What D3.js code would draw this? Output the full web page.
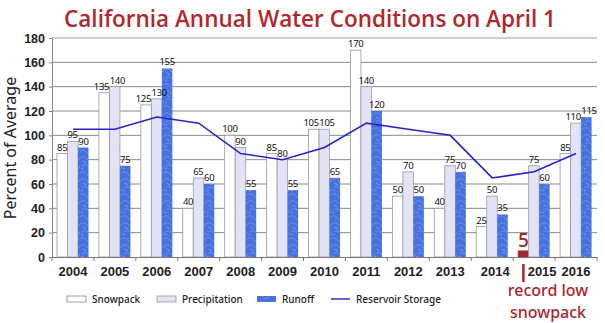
<!DOCTYPE html>
<html><head><meta charset="utf-8">
<script src="https://cdn.jsdelivr.net/npm/d3@7"></script>
<style>
html,body{margin:0;padding:0;background:#fff;}
svg{display:block;font-family:"Noto Sans","DejaVu Sans",sans-serif;}
</style></head>
<body><svg id="chart" width="605" height="323"></svg>
<script>
const years = ["2004","2005","2006","2007","2008","2009","2010","2011","2012","2013","2014","2015","2016"];
const snowpack = [85,135,125,40,100,85,105,170,50,40,25,5,85];
const precipitation = [95,140,130,65,90,80,105,140,70,75,50,75,110];
const runoff = [90,75,155,60,55,55,65,120,50,70,35,60,115];
const reservoir = [105,105,115,110,85,80,90,110,105,100,65,70,85];
const yTicks = [0,20,40,60,80,100,120,140,160,180];
const seriesNames = ["Snowpack","Precipitation","Runoff","Reservoir Storage"];
const titleText = "California Annual Water Conditions on April 1";
const yLabel = "Percent of Average";
const recordYear = "2015";
const noteLines = ["record low","snowpack"];

const svg = d3.select("#chart");
const defs = svg.append("defs");

const x = d3.scaleBand().domain(years).range([52,597]);
const xs = d3.scaleBand().domain(["s","p","r"]).range([5,36.5]);
const y = d3.scaleLinear().domain([0,180]).range([257,38]);
const step = x.step();

// patterns
const pPrec = defs.append("pattern").attr("id","precPat").attr("patternUnits","userSpaceOnUse")
  .attr("x", x.range()[0] + xs("p")).attr("y", 0).attr("width", step).attr("height", 62);
pPrec.append("rect").attr("width",step).attr("height",62).attr("fill","#e3e3f6");
pPrec.append("rect").attr("width",3).attr("height",62).attr("fill","#f1f1fb");
const drop = pPrec.append("g").attr("transform","translate(4,24)");
drop.append("ellipse").attr("rx",3.6).attr("ry",4.6).attr("fill","#fafafa").attr("stroke","#b8b8c0").attr("stroke-width",0.6);
drop.append("path").attr("d","M-2.8,1 Q-1,4.8 2.8,1.5 Q0.5,3 -2.8,1Z").attr("fill","#9a9aa4");
drop.append("ellipse").attr("cx",1).attr("cy",-1.6).attr("rx",1.2).attr("ry",1.6).attr("fill","#fff");

const pRun = defs.append("pattern").attr("id","runPat").attr("patternUnits","userSpaceOnUse")
  .attr("x",0).attr("y",0).attr("width",14).attr("height",22);
pRun.append("rect").attr("width",14).attr("height",22).attr("fill","#4671de");
pRun.append("path").attr("d","M0,4 Q4,1 7,5 T14,4 M2,12 Q5,9 9,13 T14,12 M0,19 Q3,16 6,20 T13,18")
  .attr("fill","none").attr("stroke","#7fa3f0").attr("stroke-width",0.8).attr("opacity",0.8);
pRun.append("path").attr("d","M3,7 L6,9 M9,16 L12,15 M1,15 L3,14")
  .attr("fill","none").attr("stroke","#a9c2f6").attr("stroke-width",0.6);

// title
svg.append("text").attr("x",310).attr("y",27).attr("text-anchor","middle")
  .attr("fill","#b2282b").attr("font-size",22.5).attr("font-weight",600)
  .attr("font-family","'Open Sans','Noto Sans',sans-serif").text(titleText);

// gridlines
svg.append("g").selectAll("line").data(yTicks.filter(d=>d>0)).join("line")
  .attr("x1",52).attr("x2",597).attr("y1",d=>y(d)).attr("y2",d=>y(d))
  .attr("stroke",d=>d===180?"#cfcfcf":"#8a8a8a").attr("stroke-width",d=>d===180?2:1);

// y axis
const yAxis = svg.append("g").attr("transform","translate(52,0)")
  .call(d3.axisLeft(y).tickValues(yTicks).tickSize(3).tickPadding(4));
yAxis.select(".domain").attr("stroke","#888");
yAxis.selectAll(".tick line").attr("stroke","#888");
yAxis.selectAll("text").attr("font-size",12.5).attr("font-weight",600).attr("fill","#222");

svg.append("text").attr("transform","translate(16,148) rotate(-90)").attr("text-anchor","middle")
  .attr("font-size",16).attr("fill","#222").text(yLabel);

// bars
const rows = years.map((yr,i)=>({yr, s:snowpack[i], p:precipitation[i], r:runoff[i]}));
const gBars = svg.append("g");
rows.forEach(d=>{
  const g = gBars.append("g").attr("transform",`translate(${x(d.yr)},0)`);
  const rec = d.yr===recordYear;
  g.append("rect").attr("x",xs("s")).attr("width",xs.bandwidth()).attr("y",y(d.s)).attr("height",y(0)-y(d.s))
    .attr("fill",rec?"#a8262b":"#fff").attr("stroke",rec?"#a8262b":"#999").attr("stroke-width",0.8);
  g.append("rect").attr("x",xs("p")).attr("width",xs.bandwidth()).attr("y",y(d.p)).attr("height",y(0)-y(d.p))
    .attr("fill","url(#precPat)").attr("stroke","#9a9aa8").attr("stroke-width",0.8);
  g.append("rect").attr("x",xs("r")).attr("width",xs.bandwidth()).attr("y",y(d.r)).attr("height",y(0)-y(d.r))
    .attr("fill","url(#runPat)");
  const labels = [];
  const lbl = (k,v)=> {
    const cx = xs(k)+xs.bandwidth()/2;
    const t = g.append("text").attr("x",cx).attr("y",y(v)-3)
      .attr("text-anchor","middle").attr("font-size",9.5).attr("letter-spacing",-0.3).attr("fill","#111").text(v);
    const w = t.node().getComputedTextLength();
    labels.push({t, cx, w, yy:y(v)-3});
  };
  if(rec){
    g.append("text").attr("x",xs("s")+xs.bandwidth()/2).attr("y",y(d.s)-4).attr("text-anchor","middle")
      .attr("font-size",19).attr("font-weight",500).attr("fill","#a8262b").text(d.s);
  } else lbl("s",d.s);
  lbl("p",d.p); lbl("r",d.r);
  // nudge adjacent labels apart when they collide
  for(let i=0;i<labels.length-1;i++){
    const a=labels[i], b=labels[i+1];
    if(Math.abs(a.yy-b.yy) < 9){
      const ov = (a.cx + a.w/2) - (b.cx - b.w/2) + 0.5;
      if(ov>0){ a.cx -= ov/2; b.cx += ov/2; a.t.attr("x",a.cx); b.t.attr("x",b.cx); }
    }
  }
});

// x axis
const xAxis = svg.append("g").attr("transform","translate(0,257)")
  .call(d3.axisBottom(x).tickSize(0).tickPadding(10));
xAxis.select(".domain").attr("stroke","#777");
xAxis.selectAll("text").attr("font-size",13).attr("font-weight",600).attr("fill","#222");
xAxis.selectAll(".tick text").attr("dx",d=>d==="2014"?3:d==="2015"?8:0);
svg.append("g").selectAll("line").data(years.concat(["end"])).join("line")
  .attr("x1",(d,i)=>x.range()[0]+i*step).attr("x2",(d,i)=>x.range()[0]+i*step)
  .attr("y1",257).attr("y2",261).attr("stroke","#777");

// reservoir line
const line = d3.line().x((d,i)=>x(years[i])+step/2).y(d=>y(d));
svg.append("path").datum(reservoir).attr("d",line).attr("fill","none")
  .attr("stroke","#2424c8").attr("stroke-width",1.6);

// annotation
const rx = x(recordYear)+xs("s")+xs.bandwidth()/2;
svg.append("line").attr("x1",rx).attr("x2",rx).attr("y1",264).attr("y2",282)
  .attr("stroke","#a8262b").attr("stroke-width",2.5);
noteLines.forEach((t,i)=>svg.append("text").attr("x",548).attr("y",296+i*22).attr("text-anchor","middle")
  .attr("font-size",16).attr("font-weight",500).attr("fill","#a8262b").text(t));

// legend
const leg = svg.append("g").attr("transform","translate(0,299)");
const lx = [67,157,257,331];
seriesNames.forEach((n,i)=>{
  const g = leg.append("g").attr("transform",`translate(${lx[i]},0)`);
  if(i===0) g.append("rect").attr("y",-3).attr("width",19).attr("height",6).attr("fill","#fff").attr("stroke","#888").attr("stroke-width",0.8);
  if(i===1) g.append("rect").attr("y",-3).attr("width",19).attr("height",6).attr("fill","#e3e3f6").attr("stroke","#999").attr("stroke-width",0.8);
  if(i===2) g.append("rect").attr("y",-3).attr("width",19).attr("height",6).attr("fill","url(#runPat)");
  if(i===3) g.append("line").attr("x1",0).attr("x2",19).attr("stroke","#2424c8").attr("stroke-width",1.4);
  g.append("text").attr("x",25).attr("y",3.5).attr("font-size",10).attr("font-weight",500).attr("fill","#222").text(n);
});
</script></body></html>
